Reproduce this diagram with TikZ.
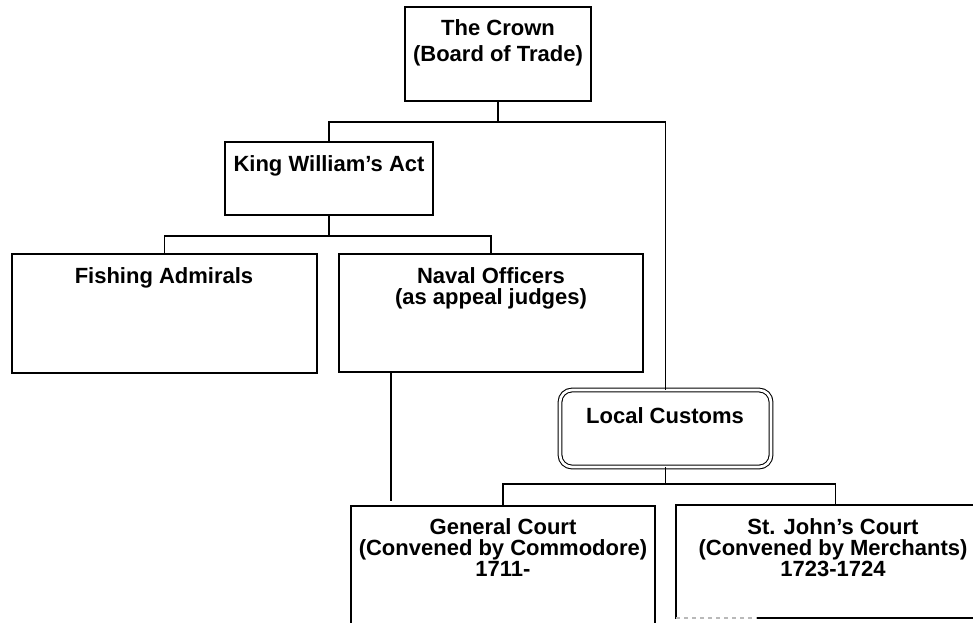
\documentclass[tikz,border=0pt]{standalone}
\usepackage{fontspec}
\setmainfont{Liberation Sans}
\usetikzlibrary{fit}
\begin{document}
\begin{tikzpicture}[x=0.75pt,y=-0.75pt,
  box/.style={draw, line width=1.1pt, inner sep=0pt, outer sep=0pt, rectangle},
  dbox/.style={draw, line width=0.8pt, double, double distance=2pt, rounded corners=9pt, inner sep=0pt, outer sep=0pt},
  txt/.style={font=\bfseries\fontsize{16.5}{15.75}\selectfont, align=center, inner sep=0pt, anchor=north},
  wtxt/.style={txt, font=\bfseries\fontsize{16.5}{20}\selectfont},
  conn/.style={line width=1.1pt}]
\useasboundingbox (0,0) rectangle (973,622);

% boxes
\node[box, fit={(405,7) (591,101)}] (crown) {};
\node[box, fit={(225,142) (433,215)}] (kw) {};
\node[box, fit={(12,254) (317,373)}] (fish) {};
\node[box, fit={(339,254) (643,372)}] (naval) {};
\node[dbox, fit={(560,390) (771,467)}] (lc) {};
\node[box, fit={(351,506) (655,640)}] (gc) {};
\node[box, fit={(676,505) (995,618)}] (stj) {};
\draw[white, line width=1.6pt] (stj.south west) -- ++(81,0) coordinate (stjfade);
\draw[gray!55, dashed, line width=0.8pt] (stj.south west) -- (stjfade);

% texts
\node[wtxt] (crownt) at (498,19) {The Crown\\(Board of Trade)};
\node[txt] (kwt) at (329,155) {King William’s Act};
\node[txt] (fisht) at (164,267) {Fishing Admirals};
\node[txt] (navalt) at (491,267) {Naval Officers\\(as appeal judges)};
\node[txt] (lct) at (665,407) {Local Customs};
\node[txt] (gct) at (503,518) {General Court\\(Convened by Commodore)\\1711-};
\node[txt] (stjt) at (833,518) {St. John’s Court\\(Convened by Merchants)\\1723-1724};

% connectors
\draw[conn] (crown.south) -- ++(0,21) coordinate (cj) -| (kw.north);
\draw[conn] (cj) -| (lc.north);
\draw[conn] (kw.south) -- ++(0,21) coordinate (kj) -| (fish.north);
\draw[conn] (kj) -| (naval.north);
\coordinate (navend) at (391,501);
\draw[conn] (naval.south -| navend) -- (navend);
\draw[conn] (lc.south) -- ++(0,17) coordinate (lj) -| (gc.north);
\draw[conn] (lj) -| (stj.north);
\end{tikzpicture}
\end{document}
